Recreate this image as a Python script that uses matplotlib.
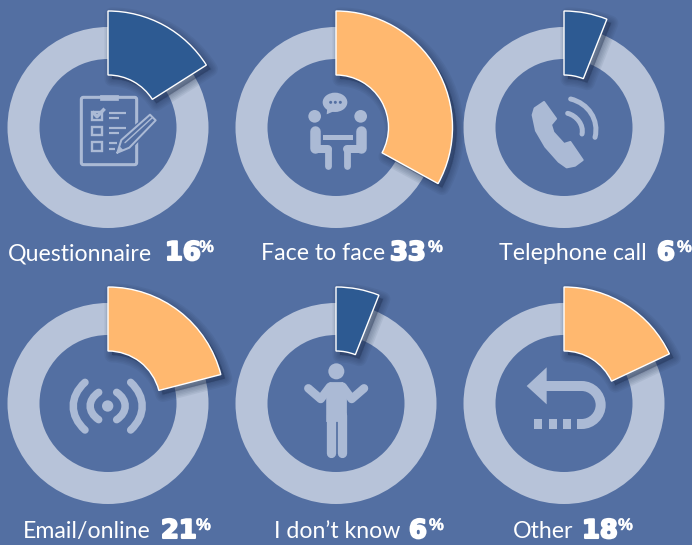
import matplotlib
matplotlib.use('Agg')
import matplotlib.pyplot as plt
import matplotlib.patheffects as pe
from matplotlib.patches import Wedge, Circle, Ellipse, Polygon, PathPatch, FancyBboxPatch, Rectangle
from matplotlib.path import Path

labels = ['Questionnaire', 'Face to face', 'Telephone call', 'Email/online', "I don\u2019t know", 'Other']
values = [16, 33, 6, 21, 6, 18]
highlight = ['dark', 'orange', 'dark', 'orange', 'dark', 'orange']

BG = '#536FA2'
RING = '#B7C3D9'
ICON = '#ABBAD5'
COLORS = {'dark': '#2D5A92', 'orange': '#FFB86F'}

centers = [(108, 127.5), (336, 127.5), (564, 127.5), (108, 403.5), (336, 403.5), (564, 403.5)]
# left edge of the label and of the number, per panel
label_x = [8, 261, 499, 23, 274, 513]
num_x = [165, 390, 657, 161, 409, 582]
pct_x = [199, 428, 677, 196, 429, 618]
baseline = [260, 260, 260, 538, 538, 538]

fig = plt.figure(figsize=(6.92, 5.45), dpi=100, facecolor=BG)
ax = fig.add_axes([0, 0, 1, 1])
ax.set_xlim(0, 692)
ax.set_ylim(545, 0)
ax.axis('off')


def pts(ox, oy, xy):
    # the icons are measured in 3x crop pixels from the panel corner
    return [(ox + x / 3, oy + y / 3) for x, y in xy]


def line(ox, oy, xy, w, cap='round', color=ICON, join='round'):
    xs, ys = zip(*pts(ox, oy, xy))
    ax.plot(xs, ys, color=color, lw=w * 0.72, solid_capstyle=cap, solid_joinstyle=join, zorder=3)


def curve(ox, oy, xy, w, cap='round'):
    # cubic segment: start, ctrl, ctrl, end
    codes = [Path.MOVETO] + [Path.CURVE4] * (len(xy) - 1)
    ax.add_patch(PathPatch(Path(pts(ox, oy, xy), codes), fill=False, ec=ICON, lw=w * 0.72,
                           capstyle=cap, zorder=3))


def dot(ox, oy, x, y, r, color=ICON):
    ax.add_patch(Circle((ox + x / 3, oy + y / 3), r / 3, fc=color, ec='none', zorder=3))


def poly(ox, oy, xy, color=ICON, lw=0):
    ax.add_patch(Polygon(pts(ox, oy, xy), closed=True, fc=color, ec=color, lw=lw, joinstyle='round', zorder=3))


def icon_clipboard(ox, oy):
    ax.add_patch(FancyBboxPatch((ox + 244 / 3, oy + 292 / 3), 166 / 3, 202 / 3, boxstyle='round,pad=0,rounding_size=2',
                                fc='none', ec=ICON, lw=2.2, zorder=3))
    poly(ox, oy, [(300, 284), (354, 284), (354, 301), (300, 301)], lw=0.5)
    for y in [335, 380, 427]:
        ax.add_patch(Rectangle((ox + 277 / 3, oy + y / 3), 28 / 3, 26 / 3, fc=BG, ec=ICON, lw=1.7, zorder=3))
    line(ox, oy, [(277, 335), (291, 350), (314, 326)], 3.5, cap='butt')
    for y, x1 in [(338, 378), (354, 358), (383, 378), (399, 358), (430, 350), (446, 345)]:
        line(ox, oy, [(327, y), (x1, y)], 2.2, cap='butt')
    # pencil sits on top of the clipboard edge
    poly(ox, oy, [(345, 465), (360, 412), (452, 335), (476, 361), (392, 450)], color=BG)
    line(ox, oy, [(352, 458), (364, 420), (450, 344), (467, 361), (388, 443), (352, 458)], 2)
    line(ox, oy, [(375, 428), (458, 352)], 1.4)
    poly(ox, oy, [(352, 458), (358, 438), (372, 452)])


def icon_meeting(ox, oy):
    ax.add_patch(Ellipse((ox + 315 / 3, oy + 307 / 3), 74 / 3, 58 / 3, fc=ICON, ec='none', zorder=3))
    poly(ox, oy, [(292, 322), (290, 343), (318, 331)])
    for x in [302, 316, 331]:
        dot(ox, oy, x, 307, 4.5, color=BG)
    dot(ox, oy, 254, 349, 19)
    dot(ox, oy, 392, 349, 19)
    line(ox, oy, [(254, 392), (254, 443)], 10.5)
    line(ox, oy, [(392, 392), (392, 443)], 10.5)
    line(ox, oy, [(254, 447), (294, 447)], 8)
    line(ox, oy, [(392, 447), (352, 447)], 8)
    line(ox, oy, [(294, 447), (294, 497)], 6.8)
    line(ox, oy, [(352, 447), (352, 497)], 6.8)
    poly(ox, oy, [(279, 406), (368, 406), (368, 420), (279, 420)])


def icon_phone(ox, oy):
    poly(ox, oy, [(218, 345), (224, 325), (252, 306), (288, 356), (273, 374), (280, 397), (312, 432), (331, 426),
                  (368, 480), (345, 497), (320, 502), (296, 485), (256, 440), (228, 392)], lw=1.5)
    curve(ox, oy, [(323, 340), (350, 347), (372, 375), (366, 402)], 5)
    curve(ox, oy, [(332, 297), (385, 310), (418, 360), (405, 412)], 5)


def icon_signal(ox, oy):
    dot(ox, oy, 323, 393, 17)
    curve(ox, oy, [(296, 352), (262, 375), (262, 411), (296, 434)], 7.5)
    curve(ox, oy, [(255, 322), (208, 365), (208, 422), (255, 465)], 7.5)
    curve(ox, oy, [(350, 352), (384, 375), (384, 411), (350, 434)], 7.5)
    curve(ox, oy, [(392, 322), (438, 365), (438, 422), (392, 465)], 7.5)


def icon_person(ox, oy):
    dot(ox, oy, 319, 289, 24)
    line(ox, oy, [(235, 340), (272, 372), (300, 335)], 8.5)
    line(ox, oy, [(402, 340), (365, 372), (338, 335)], 8.5)
    poly(ox, oy, [(300, 322), (338, 322), (350, 345), (350, 440), (290, 440), (290, 345)], lw=0.5)
    line(ox, oy, [(303, 420), (303, 533)], 9.3)
    line(ox, oy, [(337, 420), (337, 533)], 9.3)


def icon_back(ox, oy):
    poly(ox, oy, [(200, 333), (260, 277), (260, 388)])
    xy = [(255, 333), (365, 333), (396, 333), (422, 359), (422, 390), (422, 421), (396, 447), (365, 447), (351, 447)]
    codes = [Path.MOVETO, Path.LINETO] + [Path.CURVE4] * 6 + [Path.LINETO]
    ax.add_patch(PathPatch(Path(pts(ox, oy, xy), codes), fill=False, ec=ICON, lw=7.2, capstyle='butt', zorder=3))
    for x in [223, 266, 308]:
        poly(ox, oy, [(x, 433), (x + 24, 433), (x + 24, 462), (x, 462)])


icons = [icon_clipboard, icon_meeting, icon_phone, icon_signal, icon_person, icon_back]
corners = [(0, 0), (230, 0), (460, 0), (0, 275), (230, 275), (460, 275)]

for i in range(len(values)):
    cx, cy = centers[i]
    theta2 = -90 + values[i] * 3.6

    # grey ring
    ax.add_patch(Wedge((cx, cy), 100.5, 0, 360, width=32, fc=RING, ec='none', zorder=1))
    icons[i](*corners[i])

    # soft shadow under the slice
    for blur in [15, 12, 9, 6, 3, 1]:
        ax.add_patch(Wedge((cx + 4, cy + 4), 116.5, -90, theta2, width=64, fc='#1B2B4A', ec='#1B2B4A',
                           lw=blur * 0.72, alpha=0.07, joinstyle='round', zorder=4))
    ax.add_patch(Wedge((cx, cy), 116.5, -90, theta2, width=64, fc=COLORS[highlight[i]], ec='white',
                       lw=1.0, joinstyle='miter', zorder=5))

    # label, number and small percent sign
    ax.text(label_x[i], baseline[i], labels[i], family='Lato', fontsize=16.7, color='white',
            ha='left', va='baseline', zorder=6)
    ax.text(num_x[i], baseline[i], str(values[i]), family='DejaVu Sans', weight='bold', fontsize=18.5, color='white',
            ha='left', va='baseline', zorder=6,
            path_effects=[pe.withStroke(linewidth=1.5, foreground='white')])
    ax.text(pct_x[i], baseline[i] - 8, '%', family='Liberation Sans', weight='bold', fontsize=12, color='white',
            ha='left', va='baseline', zorder=6,
            path_effects=[pe.withStroke(linewidth=0.3, foreground='white')])

fig.savefig('out.png', dpi=100, facecolor=BG)
